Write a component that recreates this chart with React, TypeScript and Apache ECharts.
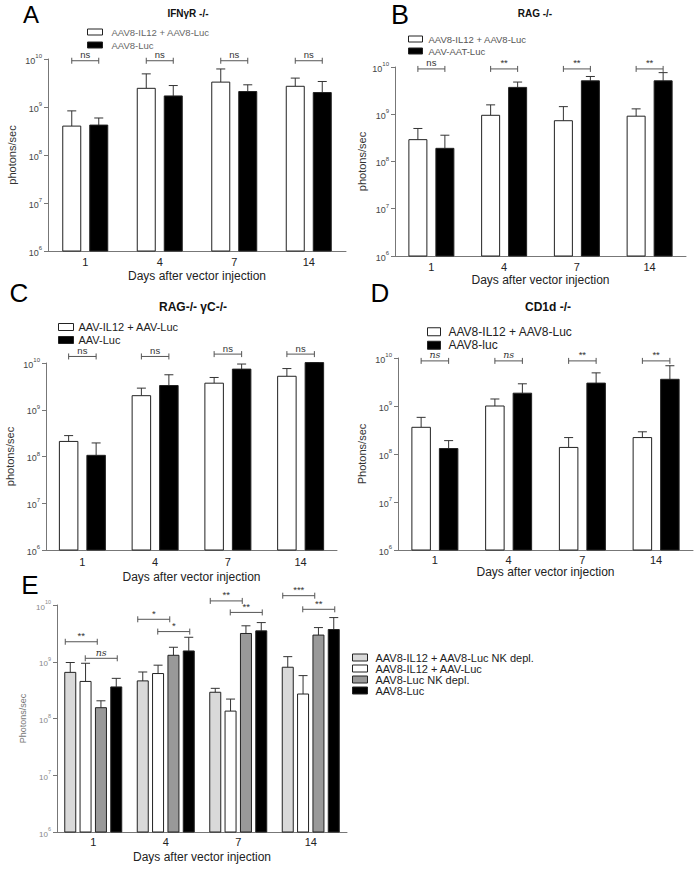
import React, { useEffect, useRef } from 'react';
import * as echarts from 'echarts';

const days = ['1', '4', '7', '14'];

// Panel A – IFNγR -/-
const aWhite = [4.0e8, 2.45e9, 3.3e9, 2.7e9];
const aWhiteErr = [8.3e8, 4.9e9, 6.2e9, 4.0e9];
const aBlack = [4.2e8, 1.7e9, 2.1e9, 2.0e9];
const aBlackErr = [5.9e8, 2.8e9, 2.9e9, 3.4e9];
const aSig = ['ns', 'ns', 'ns', 'ns'];
const aSigLevel = [9.2e9, 9.2e9, 9.2e9, 9.2e9];

// Panel B – RAG -/-
const bWhite = [2.9e8, 9.5e8, 7.3e8, 9.1e8];
const bWhiteErr = [5.0e8, 1.58e9, 1.45e9, 1.3e9];
const bBlack = [1.9e8, 3.7e9, 5.1e9, 5.1e9];
const bBlackErr = [3.6e8, 4.8e9, 6.3e9, 7.6e9];
const bSig = ['ns', '**', '**', '**'];
const bSigLevel = [9.1e9, 9.1e9, 9.1e9, 9.1e9];

// Panel C – RAG-/- γC-/-
const cWhite = [2.1e8, 2.0e9, 3.7e9, 5.2e9];
const cWhiteErr = [2.8e8, 2.9e9, 4.9e9, 7.6e9];
const cBlack = [1.06e8, 3.3e9, 7.4e9, 1.02e10];
const cBlackErr = [1.95e8, 5.6e9, 9.5e9, 1.02e10];
const cSig = ['ns', 'ns', 'ns', 'ns'];
const cSigLevel = [1.38e10, 1.38e10, 1.55e10, 1.55e10];

// Panel D – CD1d -/-
const dWhite = [3.6e8, 1.0e9, 1.37e8, 2.2e8];
const dWhiteErr = [5.8e8, 1.4e9, 2.2e8, 2.9e8];
const dBlack = [1.3e8, 1.85e9, 3.0e9, 3.6e9];
const dBlackErr = [1.9e8, 2.9e9, 4.9e9, 6.9e9];
const dSig = ['ns', 'ns', '**', '**'];
const dSigLevel = [8.7e9, 8.7e9, 8.7e9, 8.7e9];

// Panel E
const eNK = [6.5e8, 4.6e8, 2.9e8, 8.0e8];
const eNKErr = [9.7e8, 6.6e8, 3.4e8, 1.23e9];
const eIL = [4.5e8, 6.2e8, 1.35e8, 2.7e8];
const eILErr = [9.4e8, 8.7e8, 2.2e8, 5.7e8];
const eLucNK = [1.55e8, 1.3e9, 3.15e9, 2.95e9];
const eLucNKErr = [2.05e8, 1.8e9, 4.3e9, 4.0e9];
const eLuc = [3.6e8, 1.55e9, 3.5e9, 3.7e9];
const eLucErr = [5.1e8, 2.7e9, 4.9e9, 6.0e9];
const eSig1 = ['**', '*', '**', '***'];
const eSig1Level = [2.25e9, 5.6e9, 1.18e10, 1.46e10];
const eSig2 = ['ns', '*', '**', '**'];
const eSig2Level = [1.15e9, 3.4e9, 7.4e9, 8.4e9];

const FONT = '"Liberation Sans", Arial, sans-serif';
const AXIS = '#777';
const SANS10 = `9.5px ${FONT}`;
const SERIF10 = `italic 9.5px "DejaVu Serif", "Liberation Serif", serif`;

function barRender(offset: number, width: number, fill: string) {
  return (params: any, api: any) => {
    const cat = api.value(0);
    const top = api.coord([cat, api.value(1)]);
    const base = api.coord([cat, 1e6]);
    const et = api.coord([cat, api.value(2)]);
    const x = top[0] + offset;
    const cap = 9;
    return {
      type: 'group',
      children: [
        { type: 'line', shape: { x1: x, y1: top[1], x2: x, y2: et[1] }, style: { stroke: '#333', lineWidth: 1 } },
        { type: 'line', shape: { x1: x - cap / 2, y1: et[1], x2: x + cap / 2, y2: et[1] }, style: { stroke: '#333', lineWidth: 1 } },
        {
          type: 'rect',
          shape: { x: x - width / 2, y: top[1], width, height: base[1] - top[1] },
          style: { fill, stroke: '#222', lineWidth: 1 },
        },
      ],
    };
  };
}

function bracketRender(span: [number, number], labels: string[]) {
  return (params: any, api: any) => {
    const p = api.coord([api.value(0), api.value(1)]);
    const x1 = p[0] + span[0];
    const x2 = p[0] + span[1];
    const y = p[1];
    const st = { stroke: '#555', lineWidth: 1 };
    const label = labels[params.dataIndex];
    const font = label === 'ns' && params.seriesName && params.seriesName.indexOf('serif') >= 0 ? SERIF10 : SANS10;
    return {
      type: 'group',
      children: [
        { type: 'line', shape: { x1, y1: y, x2, y2: y }, style: st },
        { type: 'line', shape: { x1, y1: y - 3, x2: x1, y2: y + 3 }, style: st },
        { type: 'line', shape: { x1: x2, y1: y - 3, x2, y2: y + 3 }, style: st },
        {
          type: 'text',
          style: { text: label, x: (x1 + x2) / 2, y: y - 1, align: 'center', verticalAlign: 'bottom', font, fill: '#333' },
        },
      ],
    };
  };
}

function barSeries(name: string, idx: number, vals: number[], errs: number[], offset: number, width: number, fill: string) {
  return {
    type: 'custom',
    name,
    xAxisIndex: idx,
    yAxisIndex: idx,
    itemStyle: { color: fill, borderColor: '#222', borderWidth: 1 },
    renderItem: barRender(offset, width, fill),
    encode: { x: 0, y: 1 },
    data: vals.map((v, i) => [i, v, errs[i]]),
    silent: true,
  };
}

function bracketSeries(id: string, idx: number, levels: number[], labels: string[], span: [number, number]) {
  return {
    type: 'custom',
    name: id,
    xAxisIndex: idx,
    yAxisIndex: idx,
    itemStyle: { color: '#333' },
    renderItem: bracketRender(span, labels),
    encode: { x: 0, y: 1 },
    data: levels.map((v, i) => [i, v]),
    silent: true,
    z: 5,
  };
}

function xAxisCfg(idx: number, nameGap: number, labelMargin: number) {
  return {
    type: 'category',
    gridIndex: idx,
    data: days,
    axisLine: { lineStyle: { color: AXIS, width: 1 } },
    axisTick: { alignWithLabel: true, length: 3, lineStyle: { color: AXIS } },
    axisLabel: { fontSize: 11, color: '#222', margin: labelMargin, fontFamily: FONT },
    name: 'Days after vector injection',
    nameLocation: 'middle',
    nameGap,
    nameTextStyle: { fontSize: 12, color: '#222', fontFamily: FONT },
  };
}

function yAxisCfg(idx: number, name: string, nameGap: number, small: boolean) {
  const col = small ? '#888' : '#444';
  return {
    type: 'log',
    logBase: 10,
    gridIndex: idx,
    min: 1e6,
    max: 1e10,
    splitLine: { show: false },
    axisLine: { show: true, lineStyle: { color: AXIS, width: 1 } },
    axisTick: { show: true, length: 4, lineStyle: { color: AXIS } },
    axisLabel: {
      margin: 6,
      formatter: (v: number) => `{b|10}{s|${Math.round(Math.log10(v))}}`,
      rich: {
        b: { fontSize: small ? 8 : 9, color: col, fontFamily: FONT, verticalAlign: 'bottom', lineHeight: 12 },
        s: { fontSize: small ? 5.5 : 6, color: col, fontFamily: FONT, verticalAlign: 'top', lineHeight: 7 },
      },
    },
    name,
    nameLocation: 'middle',
    nameGap,
    nameTextStyle: { fontSize: small ? 9 : 11, color: small ? '#777' : '#333', fontFamily: FONT },
  };
}

function legendItem(name: string, fill: string) {
  return { name, itemStyle: { color: fill, borderColor: '#222', borderWidth: 1 } };
}

function letter(t: string, x: number, y: number, size: number) {
  return { type: 'text', style: { text: t, x, y, align: 'center', verticalAlign: 'middle', font: `${size}px ${FONT}`, fill: '#000' } };
}

function heading(t: string, x: number, y: number, size: number) {
  return { type: 'text', style: { text: t, x, y, align: 'center', verticalAlign: 'middle', font: `bold ${size}px ${FONT}`, fill: '#111' } };
}

export default function App() {
  const ref = useRef<HTMLDivElement>(null);
  useEffect(() => {
    if (!ref.current) return;
    const chart = echarts.init(ref.current, undefined, { renderer: 'svg' });
    const option: any = {
      animation: false,
      backgroundColor: '#fff',
      grid: [
        { left: 48, top: 59, width: 298, height: 192 },
        { left: 395, top: 67, width: 291, height: 189 },
        { left: 46, top: 363, width: 291, height: 187 },
        { left: 398, top: 358, width: 295, height: 192 },
        { left: 57, top: 605, width: 290, height: 227 },
      ],
      xAxis: [xAxisCfg(0, 19, 5), xAxisCfg(1, 18, 5), xAxisCfg(2, 21, 6), xAxisCfg(3, 16, 4), xAxisCfg(4, 19, 4)],
      yAxis: [
        yAxisCfg(0, 'photons/sec', 31, false),
        yAxisCfg(1, 'photons/sec', 28, false),
        yAxisCfg(2, 'photons/sec', 31, false),
        yAxisCfg(3, 'Photons/sec', 31, false),
        yAxisCfg(4, 'Photons/sec', 30, true),
      ],
      legend: [
        {
          orient: 'vertical', left: 82, top: 22, itemWidth: 15, itemHeight: 6, itemGap: 3, icon: 'rect',
          textStyle: { fontSize: 9.5, color: '#666', fontFamily: FONT, padding: [0, 0, 0, 4] },
          data: [legendItem('AAV8-IL12 + AAV8-Luc', '#fff'), legendItem('AAV8-Luc', '#000')],
        },
        {
          orient: 'vertical', left: 403, top: 29, itemWidth: 14, itemHeight: 6, itemGap: 2, icon: 'rect',
          textStyle: { fontSize: 9.5, color: '#555', fontFamily: FONT, padding: [0, 0, 0, 1] },
          data: [legendItem('AAV8-IL12 + AAV8-Luc', '#fff'), legendItem('AAV-AAT-Luc', '#000')],
        },
        {
          orient: 'vertical', left: 53, top: 316, itemWidth: 15, itemHeight: 7, itemGap: 1, icon: 'rect',
          textStyle: { fontSize: 11, lineHeight: 12, color: '#222', fontFamily: FONT },
          data: [legendItem('AAV-IL12 + AAV-Luc', '#fff'), legendItem('AAV-Luc', '#000')],
        },
        {
          orient: 'vertical', left: 422, top: 320, itemWidth: 13, itemHeight: 8, itemGap: 0, icon: 'rect',
          textStyle: { fontSize: 12, lineHeight: 13.5, color: '#222', fontFamily: FONT, padding: [0, 0, 0, 3] },
          data: [legendItem('AAV8-IL12 + AAV8-Luc', '#fff'), legendItem('AAV8-luc', '#000')],
        },
        {
          orient: 'vertical', left: 347, top: 647, itemWidth: 15, itemHeight: 7, itemGap: 0, icon: 'rect',
          textStyle: { fontSize: 11, lineHeight: 10.5, color: '#222', fontFamily: FONT, padding: [0, 0, 0, 3] },
          data: [
            legendItem('AAV8-IL12 + AAV8-Luc NK depl.', '#d9d9d9'),
            legendItem('AAV8-IL12 + AAV-Luc', '#fff'),
            legendItem('AAV8-Luc NK depl.', '#999'),
            legendItem('AAV8-Luc', '#000'),
          ],
        },
      ],
      graphic: [
        letter('A', 31, 14, 24),
        letter('B', 400, 15, 27),
        letter('C', 19, 293, 26),
        letter('D', 380, 293, 26),
        letter('E', 30, 585, 26),
        heading('IFNγR -/-', 188, 13, 10),
        heading('RAG -/-', 535, 13, 10),
        heading('RAG-/- γC-/-', 193, 307, 12),
        heading('CD1d -/-', 548, 307, 12),
      ],
      series: [
        barSeries('AAV8-IL12 + AAV8-Luc', 0, aWhite, aWhiteErr, -13.5, 18, '#fff'),
        barSeries('AAV8-Luc', 0, aBlack, aBlackErr, 13.5, 18, '#000'),
        bracketSeries('sigA', 0, aSigLevel, aSig, [-13.5, 13.5]),

        barSeries('AAV8-IL12 + AAV8-Luc', 1, bWhite, bWhiteErr, -13.5, 18, '#fff'),
        barSeries('AAV-AAT-Luc', 1, bBlack, bBlackErr, 13.5, 18, '#000'),
        bracketSeries('sigB', 1, bSigLevel, bSig, [-13.5, 13.5]),

        barSeries('AAV-IL12 + AAV-Luc', 2, cWhite, cWhiteErr, -13.75, 18.5, '#fff'),
        barSeries('AAV-Luc', 2, cBlack, cBlackErr, 13.75, 18.5, '#000'),
        bracketSeries('sigC', 2, cSigLevel, cSig, [-13.75, 13.75]),

        barSeries('AAV8-IL12 + AAV8-Luc', 3, dWhite, dWhiteErr, -13.75, 18.5, '#fff'),
        barSeries('AAV8-luc', 3, dBlack, dBlackErr, 13.75, 18.5, '#000'),
        bracketSeries('sigD-serif', 3, dSigLevel, dSig, [-13.75, 13.75]),

        barSeries('AAV8-IL12 + AAV8-Luc NK depl.', 4, eNK, eNKErr, -23, 11, '#d9d9d9'),
        barSeries('AAV8-IL12 + AAV-Luc', 4, eIL, eILErr, -7.7, 11, '#fff'),
        barSeries('AAV8-Luc NK depl.', 4, eLucNK, eLucNKErr, 7.7, 11, '#999'),
        barSeries('AAV8-Luc', 4, eLuc, eLucErr, 23, 11, '#000'),
        bracketSeries('sigE1', 4, eSig1Level, eSig1, [-28, 4]),
        bracketSeries('sigE2-serif', 4, eSig2Level, eSig2, [-8, 24]),
      ],
    };
    chart.setOption(option);
    return () => chart.dispose();
  }, []);
  return <div ref={ref} style={{ position: 'absolute', left: 0, top: 0, width: 699, height: 869 }} />;
}
